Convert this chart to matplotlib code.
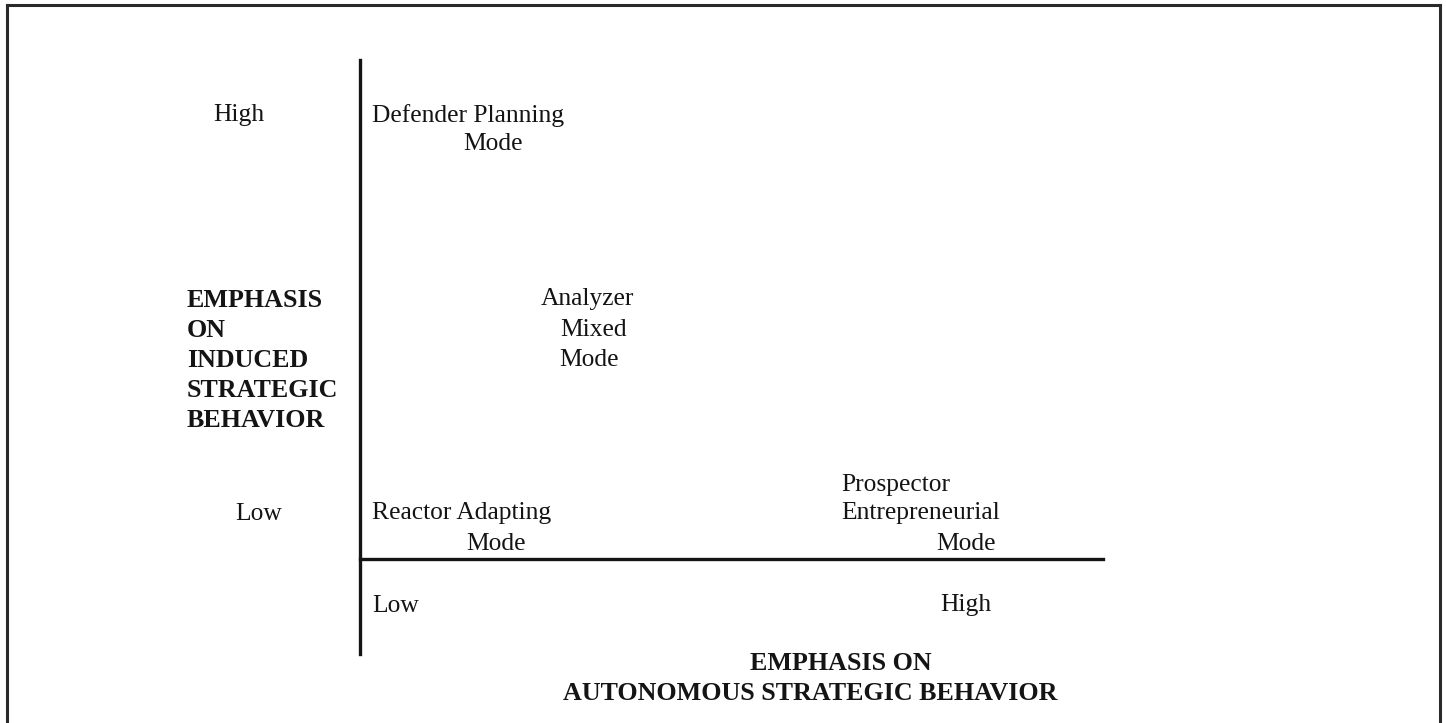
import matplotlib.pyplot as plt

# labels of the diagram
y_label = ['EMPHASIS', 'ON', 'INDUCED', 'STRATEGIC', 'BEHAVIOR']
x_label = ['EMPHASIS ON', 'AUTONOMOUS STRATEGIC BEHAVIOR']
y_levels = ['High', 'Low']
x_levels = ['Low', 'High']
defender = ['Defender Planning', 'Mode']
analyzer = ['Analyzer', 'Mixed', 'Mode']
reactor = ['Reactor Adapting', 'Mode']
prospector = ['Prospector', 'Entrepreneurial', 'Mode']

plt.rcParams['font.family'] = ['Liberation Serif', 'DejaVu Serif']

fig = plt.figure(figsize=(14.46, 7.23), dpi=100)
ax = fig.add_axes([0, 0, 1, 1])
ax.set_xlim(0, 1446)
ax.set_ylim(723, 0)
ax.axis('off')

fs = 18.4     # regular text
fb = 18.7     # bold titles
ink = '#141414'

def put(x, y, s, bold=False, ha='left'):
    ax.text(x, y, s, fontsize=fb if bold else fs, color=ink,
            fontweight='bold' if bold else 'normal',
            ha=ha, va='center_baseline')

# outer frame (top, left, right)
ax.plot([7, 1440], [5, 5], color='#2a2a2a', lw=2.2)
ax.plot([7, 7], [5, 723], color='#2a2a2a', lw=2.2)
ax.plot([1440, 1440], [5, 723], color='#2a2a2a', lw=2.2)

# axes of the matrix
ax.plot([360, 360], [60, 654], color=ink, lw=2.4)
ax.plot([360, 1103], [559, 559], color=ink, lw=2.4)

# vertical axis title
for i, s in enumerate(y_label):
    put(187, 298 + i * 30, s, bold=True)

# level labels
put(213, 113, y_levels[0])
put(235, 511, y_levels[1])
put(372, 603, x_levels[0])
put(940, 603, x_levels[1])

# strategy modes
put(372, 113, defender[0])
put(463, 142, defender[1])

put(541, 297, analyzer[0])
put(560, 327, analyzer[1])
put(559, 357, analyzer[2])

put(372, 511, reactor[0])
put(466, 541, reactor[1])

put(841, 482, prospector[0])
put(841, 511, prospector[1])
put(936, 541, prospector[2])

# horizontal axis title
put(750, 661, x_label[0], bold=True)
put(563, 691, x_label[1], bold=True)

fig.savefig('out.png', dpi=100, facecolor='white')
